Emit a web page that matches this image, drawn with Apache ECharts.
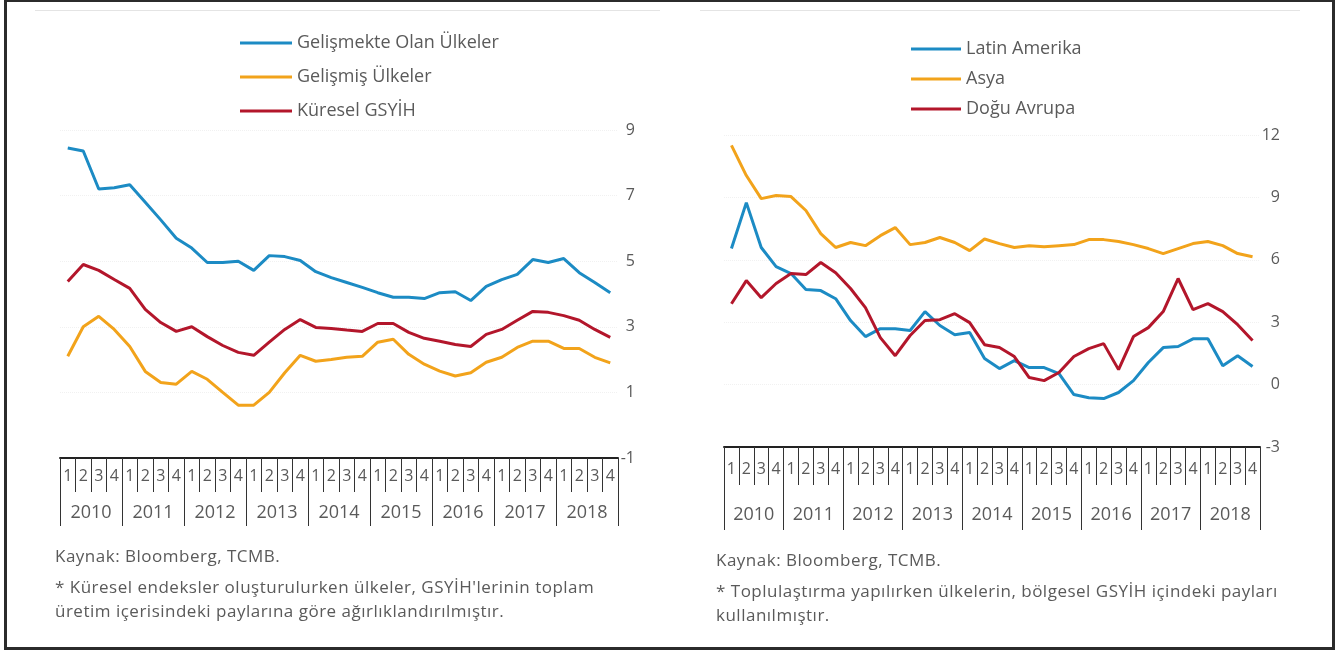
<!DOCTYPE html>
<html>
<head>
<meta charset="utf-8">
<script src="https://cdn.jsdelivr.net/npm/echarts@6/dist/echarts.min.js"></script>
<style>
  html, body { margin: 0; padding: 0; background: #fff; }
  body { width: 1338px; height: 652px; position: relative; overflow: hidden; font-family: "Open Sans", sans-serif; }
  #chart { position: absolute; left: 0; top: 0; width: 1338px; height: 652px; }
  .frame { position: absolute; left: 4px; top: -1px; width: 1331px; height: 651px; border: 3px solid #2b2b2b; box-sizing: border-box; pointer-events: none; }
  .topline { position: absolute; top: 10px; height: 1px; background: #e4e4e4; }
  .note { position: absolute; font-size: 17px; letter-spacing: 0.5px; line-height: 24px; color: #5a5a5a; white-space: nowrap; }
</style>
</head>
<body>
<div id="chart"></div>
<div class="frame"></div>
<div class="topline" style="left:35px;width:625px"></div>
<div class="topline" style="left:700px;width:600px"></div>
<div class="note" style="left:55px;top:544px">Kaynak: Bloomberg, TCMB.</div>
<div class="note" style="left:55px;top:575px">* Küresel endeksler oluşturulurken ülkeler, GSYİH'lerinin toplam<br>üretim içerisindeki paylarına göre ağırlıklandırılmıştır.</div>
<div class="note" style="left:716px;top:548px">Kaynak: Bloomberg, TCMB.</div>
<div class="note" style="left:716px;top:579px">* Toplulaştırma yapılırken ülkelerin, bölgesel GSYİH içindeki payları<br>kullanılmıştır.</div>
<script>
// tick labels
const years = ['2010', '2011', '2012', '2013', '2014', '2015', '2016', '2017', '2018']
const quarterLabels = ['1', '2', '3', '4']
const quarters = years.flatMap(y => quarterLabels.map(q => y + '-' + q))

// left panel (%)
const gelismekte = [8.45, 8.36, 7.2, 7.24, 7.33, 6.8, 6.26, 5.7, 5.4, 4.96, 4.96, 5.0,
  4.72, 5.17, 5.14, 5.02, 4.68, 4.5, 4.35, 4.2, 4.04, 3.9, 3.9, 3.86,
  4.04, 4.07, 3.8, 4.23, 4.44, 4.6, 5.05, 4.96, 5.08, 4.65, 4.35, 4.04]
const gelismis = [2.1, 3.0, 3.32, 2.92, 2.4, 1.64, 1.3, 1.25, 1.64, 1.4, 1.0, 0.61,
  0.61, 1.0, 1.6, 2.13, 1.95, 2.0, 2.07, 2.1, 2.53, 2.62, 2.16, 1.86,
  1.65, 1.5, 1.6, 1.92, 2.07, 2.37, 2.56, 2.56, 2.34, 2.34, 2.07, 1.9]
const kuresel = [4.38, 4.9, 4.72, 4.44, 4.17, 3.53, 3.13, 2.86, 3.0, 2.7, 2.43, 2.22,
  2.13, 2.53, 2.92, 3.22, 2.98, 2.95, 2.9, 2.86, 3.1, 3.1, 2.83, 2.65,
  2.56, 2.46, 2.4, 2.77, 2.92, 3.2, 3.47, 3.44, 3.34, 3.2, 2.92, 2.68]

// right panel (%)
const latin = [6.54, 8.75, 6.59, 5.67, 5.34, 4.57, 4.52, 4.13, 3.08, 2.31, 2.69, 2.69,
  2.6, 3.51, 2.84, 2.4, 2.5, 1.25, 0.77, 1.15, 0.82, 0.82, 0.53, -0.48,
  -0.63, -0.67, -0.38, 0.19, 1.06, 1.78, 1.83, 2.2, 2.2, 0.91, 1.39, 0.87]
const asya = [11.5, 10.05, 8.94, 9.09, 9.04, 8.37, 7.26, 6.59, 6.83, 6.68, 7.16, 7.55,
  6.73, 6.83, 7.07, 6.83, 6.44, 7.0, 6.78, 6.59, 6.68, 6.63, 6.68, 6.73,
  6.97, 6.97, 6.88, 6.73, 6.54, 6.3, 6.54, 6.78, 6.88, 6.68, 6.3, 6.15]
const doguAvrupa = [3.89, 5.0, 4.18, 4.86, 5.34, 5.29, 5.87, 5.38, 4.62, 3.7, 2.26, 1.39,
  2.36, 3.08, 3.12, 3.41, 2.98, 1.92, 1.78, 1.35, 0.34, 0.19, 0.58, 1.35,
  1.73, 1.97, 0.72, 2.31, 2.74, 3.51, 5.1, 3.6, 3.89, 3.51, 2.88, 2.12]

const BLUE = '#1c8bc4', ORANGE = '#f2a31b', RED = '#b3162b'
const font = 'Open Sans'
const textGray = '#5a5a5a'

function quarterAxis(gridIndex, tickLen, margin) {
  return {
    gridIndex, type: 'category', data: quarters,
    axisLine: { onZero: false, lineStyle: { color: '#222', width: 2 } },
    axisTick: { show: true, length: tickLen, interval: 0, lineStyle: { color: '#333' } },
    axisLabel: { interval: 0, margin, fontSize: 16, color: textGray, fontFamily: font,
      formatter: v => v.split('-')[1] },
  }
}
function yearAxis(gridIndex, tickLen, margin) {
  return {
    gridIndex, type: 'category', position: 'bottom', data: years,
    axisLine: { show: false, onZero: false },
    axisTick: { show: true, length: tickLen, lineStyle: { color: '#333' } },
    axisLabel: { margin, fontSize: 18, color: textGray, fontFamily: font },
  }
}
function valueAxis(gridIndex, min, max, interval, margin) {
  return {
    gridIndex, type: 'value', position: 'right', min, max, interval,
    axisLine: { show: false }, axisTick: { show: false },
    splitLine: { lineStyle: { color: '#f1f1f1', type: 'dotted' } },
    axisLabel: { align: 'right', margin, fontSize: 16, color: textGray, fontFamily: font },
  }
}
function line(name, data, color, idx) {
  return {
    name, type: 'line', data, xAxisIndex: idx * 2, yAxisIndex: idx,
    showSymbol: false, lineStyle: { color, width: 3 }, itemStyle: { color },
  }
}
const legendBase = {
  orient: 'vertical', icon: 'rect', itemWidth: 52, itemHeight: 3,
  textStyle: { fontSize: 18, color: textGray, fontFamily: font, lineHeight: 20 },
}

const chart = echarts.init(document.getElementById('chart'))
chart.setOption({
  animation: false,
  grid: [
    { left: 60, top: 130, width: 558, height: 328 },
    { left: 724, top: 135, width: 536, height: 312 },
  ],
  legend: [
    { ...legendBase, left: 235, top: 28, itemGap: 14,
      data: ['Gelişmekte Olan Ülkeler', 'Gelişmiş Ülkeler', 'Küresel GSYİH'] },
    { ...legendBase, left: 906, top: 34, itemGap: 10, itemWidth: 50,
      data: ['Latin Amerika', 'Asya', 'Doğu Avrupa'] },
  ],
  xAxis: [quarterAxis(0, 34, 10), yearAxis(0, 68, 46), quarterAxis(1, 38, 14), yearAxis(1, 83, 59)],
  yAxis: [valueAxis(0, -1, 9, 2, 17), valueAxis(1, -3, 12, 3, 20)],
  series: [
    line('Gelişmekte Olan Ülkeler', gelismekte, BLUE, 0),
    line('Gelişmiş Ülkeler', gelismis, ORANGE, 0),
    line('Küresel GSYİH', kuresel, RED, 0),
    line('Latin Amerika', latin, BLUE, 1),
    line('Asya', asya, ORANGE, 1),
    line('Doğu Avrupa', doguAvrupa, RED, 1),
  ],
})
</script>
</body>
</html>
